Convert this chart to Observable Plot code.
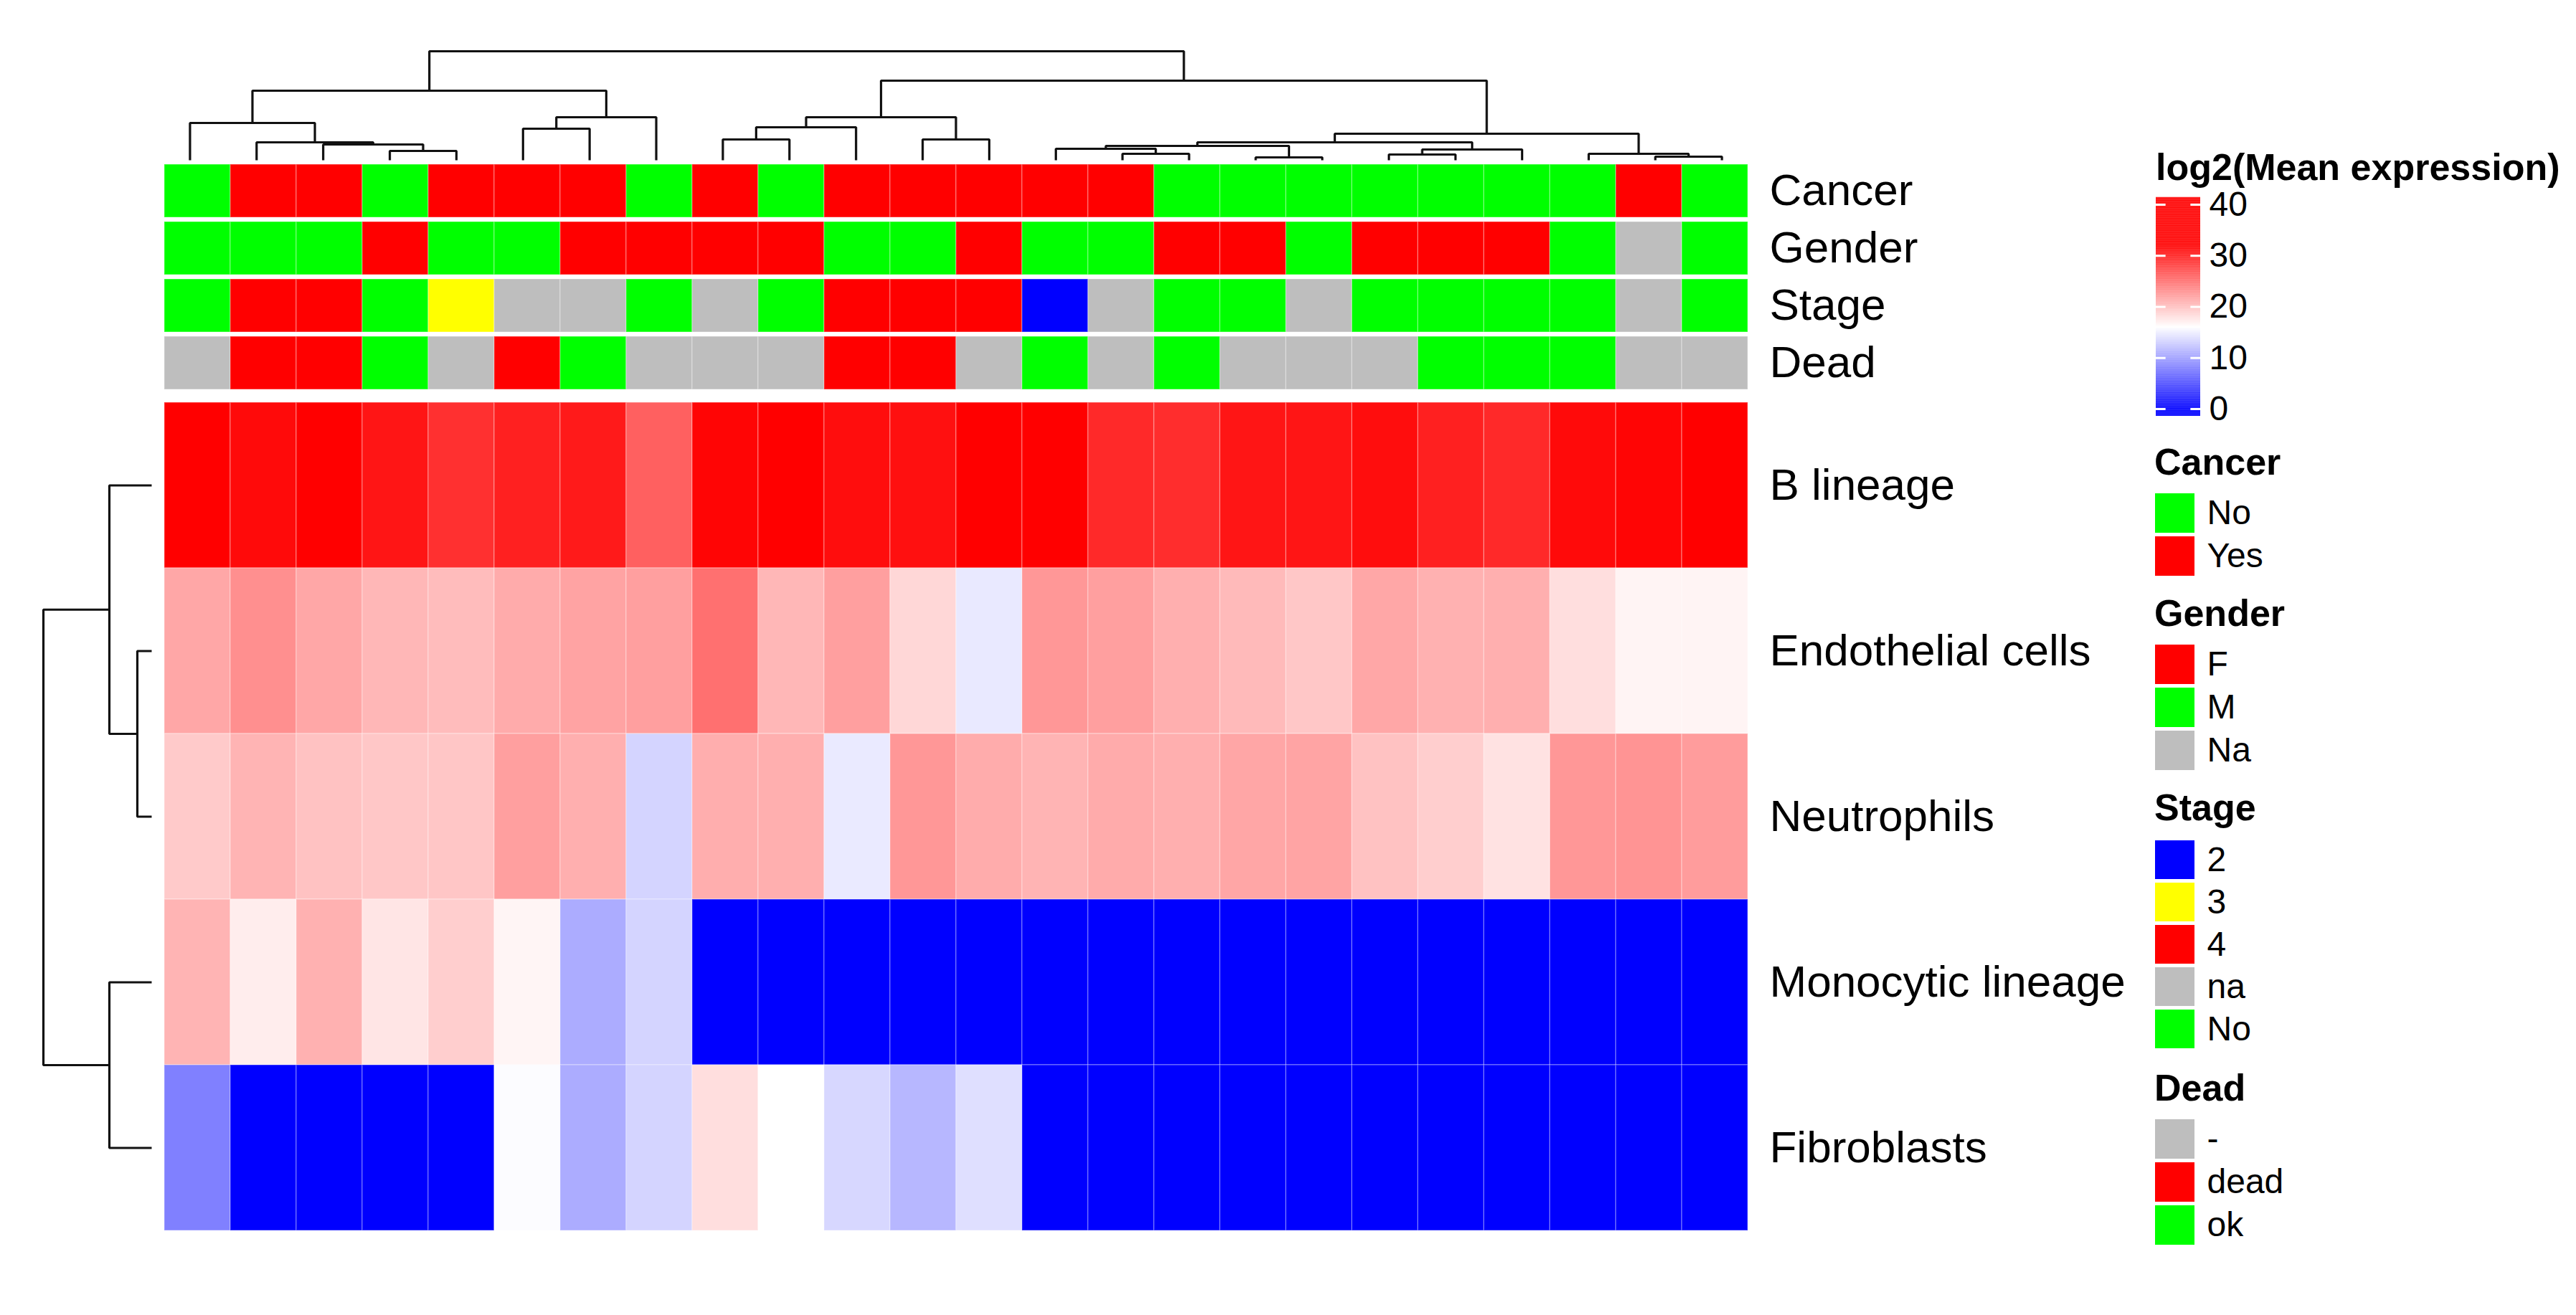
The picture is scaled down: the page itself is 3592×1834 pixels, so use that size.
<!DOCTYPE html>
<html><head><meta charset="utf-8">
<script src="https://cdn.jsdelivr.net/npm/d3@7"></script>
<script src="https://cdn.jsdelivr.net/npm/@observablehq/plot@0.6"></script>
<style>
html,body{margin:0;padding:0;background:#fff;}
#fig{position:relative;width:3592px;height:1834px;background:#fff;font-family:"Liberation Sans",Arial,Helvetica,sans-serif;overflow:hidden;}
.abs{position:absolute;}
.abs svg{max-width:none;display:block;}
.ltitle{position:absolute;font-weight:bold;font-size:52px;line-height:52px;white-space:nowrap;color:#000;}
</style></head><body><div id="fig"></div>
<script>
// ---------------- data ----------------
const samples = ["S01","S02","S03","S04","S05","S06","S07","S08","S09","S10","S11","S12",
                 "S13","S14","S15","S16","S17","S18","S19","S20","S21","S22","S23","S24"];
const cellTypes = ["B lineage","Endothelial cells","Neutrophils","Monocytic lineage","Fibroblasts"];

const bLineage    = [34,31.4,34,30.7,29.0,30.0,30.4,26.0,31.7,34,31.2,31.0,34,34,29.4,29.2,30.7,30.7,31.2,30.0,29.4,31.4,31.7,34];
const endothelial = [21.5,23.0,21.5,20.5,20.2,21.3,21.8,22.0,25.0,20.5,22.0,18.5,14.6,22.5,22.0,21.0,20.3,19.5,21.5,20.9,21.0,18.1,16.7,16.7];
const neutrophils = [19.3,20.7,19.8,19.5,19.6,22.0,21.0,13.3,21.1,21.0,14.7,22.5,21.2,20.7,21.3,21.0,21.6,21.7,19.8,19.1,17.8,22.5,22.7,22.2];
const monocytic   = [20.7,17.1,20.9,17.6,19.1,16.6,10.8,13.3,0,0,0,0,0,0,0,0,0,0,0,0,0,0,0,0];
const fibroblasts = [8.0,0,0,0,0,15.8,10.8,13.3,18.1,16.0,13.5,11.5,14.0,0,0,0,0,0,0,0,0,0,0,0];
const seriesByType = [bLineage, endothelial, neutrophils, monocytic, fibroblasts];

const annotNames = ["Cancer","Gender","Stage","Dead"];
const cancer = ["No","Yes","Yes","No","Yes","Yes","Yes","No","Yes","No","Yes","Yes","Yes","Yes","Yes","No","No","No","No","No","No","No","Yes","No"];
const gender = ["M","M","M","F","M","M","F","F","F","F","M","M","F","M","M","F","F","M","F","F","F","M","Na","M"];
const stage  = ["No","4","4","No","3","na","na","No","na","No","4","4","4","2","na","No","No","na","No","No","No","No","na","No"];
const dead   = ["-","dead","dead","ok","-","dead","ok","-","-","-","dead","dead","-","ok","-","ok","-","-","-","ok","ok","ok","-","-"];
const annotByName = [cancer, gender, stage, dead];

const cancerLevels = ["No","Yes"],             cancerColors = ["#00ff00","#ff0000"];
const genderLevels = ["F","M","Na"],           genderColors = ["#ff0000","#00ff00","#bebebe"];
const stageLevels  = ["2","3","4","na","No"],  stageColors  = ["#0000ff","#ffff00","#ff0000","#bebebe","#00ff00"];
const deadLevels   = ["-","dead","ok"],        deadColors   = ["#bebebe","#ff0000","#00ff00"];

// hierarchical clustering: [mergeHeight, left, right]; leaves = display index
const colTree = [152,
  [97,
    [52, 0, [25, 1, [22, 2, [13, 3, 4]]]],
    [60, [44, 5, 6], 7]],
  [111,
    [60, [46, [29, 8, 9], 10], [29, 11, 12]],
    [37,
      [25, [20, [16, 13, [9, 14, 15]], [4, 16, 17]], [15, [8, 18, 19], 20]],
      [9, 21, [5, 22, 23]]]]];
const rowTree = [151, [59, 0, [20, 1, 2]], [59, 3, 4]];

const colorTicks = [0, 10, 20, 30, 40];
const legendTitle = "log2(Mean expression)";

// ---------------- helpers ----------------
const FONT = '"Liberation Sans", Arial, Helvetica, sans-serif';
const baseStyle = {background: "transparent", fontFamily: FONT, maxWidth: "none", overflow: "visible"};
const colorOpts = {type: "linear", domain: [0, 16, 32, 40], range: ["#0000ff", "#ffffff", "#ff0000", "#ff0000"], interpolate: "rgb", clamp: true};

const fig = document.getElementById("fig");
function place(node, left, top) {
  const d = document.createElement("div");
  d.className = "abs"; d.style.left = left + "px"; d.style.top = top + "px";
  d.appendChild(node); fig.appendChild(d); return d;
}
function title(text, left, baseline) {
  const d = document.createElement("div");
  d.className = "ltitle"; d.textContent = text;
  d.style.left = left + "px"; d.style.top = (baseline - 44) + "px";
  fig.appendChild(d);
}
function dendroSegments(tree) {
  const rows = []; let id = 0;
  (function walk(node) {
    if (typeof node === "number") return {pos: node, h: 0};
    const [h, a, b] = node;
    const A = walk(a), B = walk(b);
    const k = id++;
    rows.push({id: k, pos: A.pos, h: A.h}, {id: k, pos: A.pos, h}, {id: k, pos: B.pos, h}, {id: k, pos: B.pos, h: B.h});
    return {pos: (A.pos + B.pos) / 2, h};
  })(tree);
  return rows;
}

// ---------------- layout ----------------
const HX = 218, HW = 2229;          // heatmap left / width
const HY = 561, HH = 1155;          // heatmap top / height
const AY = 228, AH = 317;           // annotation top / height
const LABEL_GAP = 20;

// heatmap
const heat = cellTypes.flatMap((t, r) => seriesByType[r].map((v, c) => ({sample: samples[c], type: t, value: v})));
place(Plot.plot({
  width: HW + 560, height: HH,
  marginTop: 0, marginBottom: 0, marginLeft: 0, marginRight: 560,
  x: {type: "band", domain: samples, padding: 0, axis: null},
  y: {type: "band", domain: cellTypes, padding: 0, axis: null},
  color: colorOpts,
  style: baseStyle,
  marks: [
    Plot.cell(heat, {x: "sample", y: "type", fill: "value", inset: 0, stroke: "#ffffff", strokeOpacity: 0.3, strokeWidth: 1.5}),
    Plot.text(cellTypes, {y: d => d, text: d => d, frameAnchor: "right", dx: LABEL_GAP, textAnchor: "start", fontSize: 62, fill: "#000"})
  ]
}), HX, HY);

// annotation tracks
const annotColor = {
  Cancer: v => cancerColors[cancerLevels.indexOf(v)],
  Gender: v => genderColors[genderLevels.indexOf(v)],
  Stage:  v => stageColors[stageLevels.indexOf(v)],
  Dead:   v => deadColors[deadLevels.indexOf(v)]
};
const annot = annotNames.flatMap((n, r) => annotByName[r].map((v, c) => ({sample: samples[c], track: n, color: annotColor[n](v)})));
place(Plot.plot({
  width: HW + 560, height: AH,
  marginTop: 0, marginBottom: 0, marginLeft: 0, marginRight: 560,
  x: {type: "band", domain: samples, padding: 0, axis: null},
  y: {type: "band", domain: annotNames, paddingInner: 0.07, paddingOuter: 0, axis: null},
  color: {type: "identity"},
  style: baseStyle,
  marks: [
    Plot.cell(annot, {x: "sample", y: "track", fill: "color", inset: 0, stroke: "#ffffff", strokeOpacity: 0.3, strokeWidth: 1.5}),
    Plot.text(annotNames, {y: d => d, text: d => d, frameAnchor: "right", dx: LABEL_GAP, textAnchor: "start", fontSize: 62, fill: "#000"})
  ]
}), HX, AY);

// column dendrogram
place(Plot.plot({
  width: HW, height: 230, margin: 0,
  x: {domain: [-0.5, samples.length - 0.5], range: [0, HW], axis: null},
  y: {domain: [0, 152], range: [223, 71], axis: null},
  style: baseStyle,
  marks: [Plot.line(dendroSegments(colTree), {x: "pos", y: "h", z: "id", stroke: "#111", strokeWidth: 3.2, strokeLinejoin: "miter", strokeLinecap: "butt"})]
}), HX, 0);

// row dendrogram
place(Plot.plot({
  width: HX, height: HH, margin: 0,
  x: {domain: [0, 151], range: [211, 60], axis: null},
  y: {domain: [-0.5, cellTypes.length - 0.5], range: [0, HH], axis: null},
  style: baseStyle,
  marks: [Plot.line(dendroSegments(rowTree), {x: "h", y: "pos", z: "id", stroke: "#111", strokeWidth: 3.2, strokeLinejoin: "miter", strokeLinecap: "butt"})]
}), 0, HY);

// ---------------- legends ----------------
const LX = 3006;
title(legendTitle, LX, 251);
const ramp = d3.range(-1.4, 41.4, 0.1);
place(Plot.plot({
  width: 220, height: 340, margin: 0,
  x: {domain: [0, 1], range: [0, 62], axis: null},
  y: {domain: [-1.4, 41.4], range: [320, 15], axis: null},
  color: colorOpts,
  style: baseStyle,
  marks: [
    Plot.rect(ramp, {x1: 0, x2: 1, y1: d => d, y2: d => d + 0.13, fill: d => d + 0.05}),
    Plot.ruleY(colorTicks, {y: d => d, x1: 0, x2: 0.22, stroke: "#fff", strokeWidth: 3}),
    Plot.ruleY(colorTicks, {y: d => d, x1: 0.78, x2: 1, stroke: "#fff", strokeWidth: 3}),
    Plot.text(colorTicks, {x: 1, y: d => d, text: d => String(d), dx: 12, textAnchor: "start", fontSize: 48, fill: "#000"})
  ]
}), LX, 260);

const groups = [
  {name: "Cancer", levels: cancerLevels, colors: cancerColors},
  {name: "Gender", levels: genderLevels, colors: genderColors},
  {name: "Stage",  levels: stageLevels,  colors: stageColors},
  {name: "Dead",   levels: deadLevels,   colors: deadColors}
];
const STEP = 60, SW = 55;
let baseline = 662;
for (const g of groups) {
  title(g.name, LX - 2, baseline);
  const top = baseline + 26;
  const H = g.levels.length * STEP - (STEP - SW);
  place(Plot.plot({
    width: 300, height: H, margin: 0,
    x: {type: "band", domain: ["swatch"], range: [0, SW], padding: 0, axis: null},
    y: {type: "band", domain: g.levels, paddingInner: (STEP - SW) / STEP, paddingOuter: 0, axis: null},
    color: {type: "identity"},
    style: baseStyle,
    marks: [
      Plot.cell(g.levels, {x: () => "swatch", y: d => d, fill: (d, i) => g.colors[i], inset: 0}),
      Plot.text(g.levels, {x: () => "swatch", y: d => d, text: d => d, dx: 72 - SW / 2, textAnchor: "start", fontSize: 48, fill: "#000"})
    ]
  }), LX - 1, top);
  baseline = top + H + 70;
}
</script></body></html>
